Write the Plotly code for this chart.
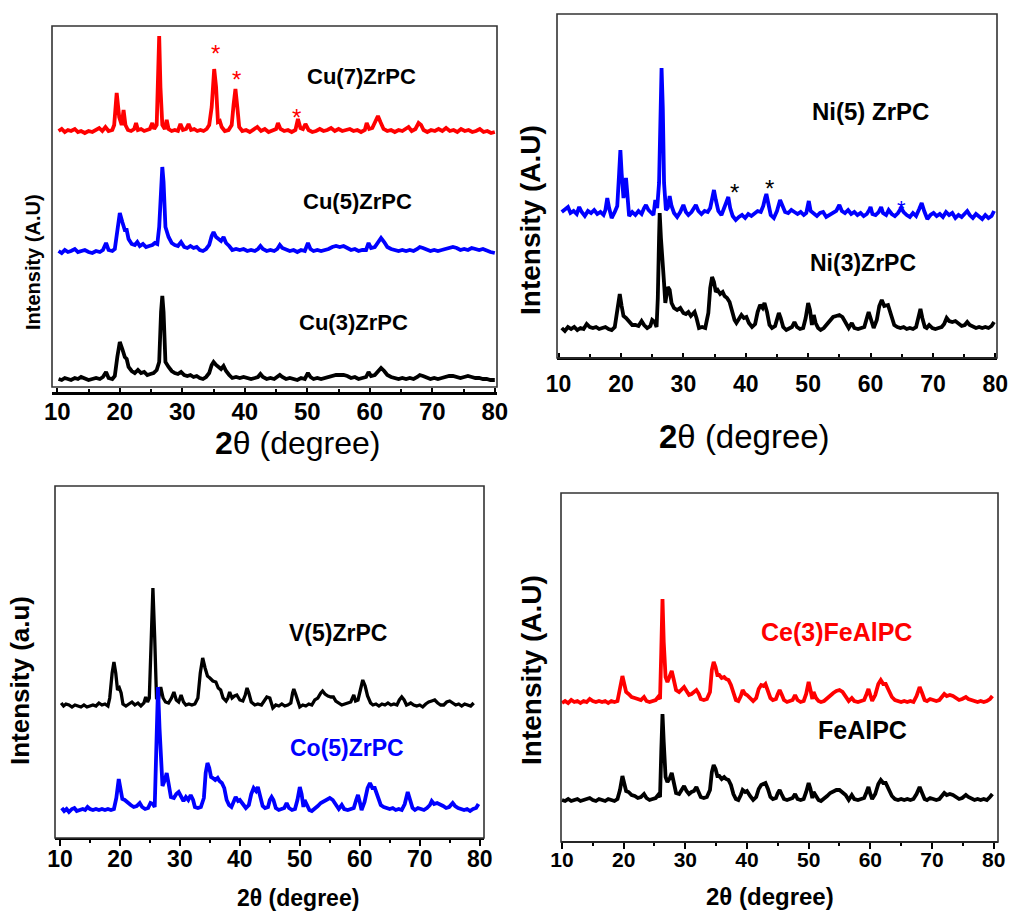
import plotly.graph_objects as go

# ---------------- DATA (2theta in degrees, intensity in arbitrary units) ----------------
cu7 = [(10.2,256),(10.7,258),(11.2,255),(11.7,257),(12.2,256),(12.8,258),(13.3,255),(13.8,256),(14.4,254),(15.0,256),(15.6,255),(16.2,257),(16.7,259),(17.2,256),(17.7,260),(18.2,256),(18.8,257),(19.1,262),(19.5,294),(19.9,270),(20.3,262),(20.6,277),(20.9,262),(21.3,257),(21.8,256),(22.3,258),(22.6,264),(22.9,257),(23.4,258),(23.9,256),(24.4,257),(24.8,258),(25.2,264),(25.5,258),(25.9,262),(26.1,300),(26.3,351),(26.5,300),(26.8,262),(27.2,258),(27.5,267),(27.8,258),(28.3,256),(28.8,257),(29.3,256),(29.7,263),(30.1,257),(30.6,258),(31.0,263),(31.4,257),(31.9,258),(32.4,256),(32.9,257),(33.4,256),(33.9,258),(34.3,262),(34.7,280),(35.1,318),(35.4,300),(35.7,265),(36.0,266),(36.3,260),(36.8,256),(37.4,257),(37.9,262),(38.2,282),(38.5,298),(38.8,280),(39.1,260),(39.6,256),(40.2,257),(40.8,255),(41.4,257),(42.0,260),(42.6,256),(43.2,258),(43.8,255),(44.4,257),(45.0,258),(45.3,264),(45.7,258),(46.3,256),(46.9,257),(47.5,255),(48.1,257),(48.5,268),(48.9,259),(49.3,258),(49.7,263),(50.2,257),(50.8,255),(51.4,256),(52.0,258),(52.6,256),(53.2,257),(53.8,259),(54.4,256),(55.0,258),(55.6,256),(56.2,257),(56.8,258),(57.4,256),(58.0,257),(58.6,255),(59.2,257),(59.5,264),(59.9,258),(60.4,259),(60.9,266),(61.3,271),(61.7,265),(62.2,258),(62.8,256),(63.4,257),(64.0,255),(64.6,257),(65.2,256),(65.8,258),(66.2,260),(66.7,256),(67.3,258),(67.8,264),(68.2,262),(68.6,257),(69.2,255),(69.8,257),(70.4,256),(71.0,258),(71.6,256),(72.2,259),(72.8,256),(73.4,257),(74.0,255),(74.6,258),(75.2,256),(75.8,257),(76.4,255),(77.0,256),(77.6,258),(78.2,255),(78.8,256),(79.4,254),(80.0,255)]

cu5 = [(10.2,136),(10.7,134),(11.2,137),(11.7,135),(12.2,136),(12.8,138),(13.3,135),(13.8,136),(14.4,137),(15.0,135),(15.6,134),(16.2,136),(16.8,135),(17.3,137),(17.8,144),(18.2,137),(18.8,136),(19.2,138),(19.6,155),(20.0,174),(20.4,165),(20.8,157),(21.1,157),(21.4,148),(21.9,143),(22.4,142),(22.8,145),(23.2,141),(23.7,143),(24.2,140),(24.7,141),(25.2,142),(25.6,144),(26.0,143),(26.3,160),(26.6,205),(26.8,220),(27.0,205),(27.3,160),(27.8,150),(28.3,144),(28.8,142),(29.3,141),(29.8,145),(30.3,140),(30.8,139),(31.3,141),(31.8,139),(32.3,140),(32.8,137),(33.3,136),(33.8,138),(34.3,142),(34.7,151),(35.0,155),(35.4,150),(35.8,148),(36.2,146),(36.6,150),(37.0,144),(37.5,141),(38.0,137),(38.6,138),(39.2,137),(39.8,138),(40.4,136),(41.0,137),(41.6,136),(42.1,138),(42.5,141),(42.9,138),(43.5,136),(44.1,137),(44.7,136),(45.2,138),(45.6,142),(46.0,139),(46.6,137),(47.2,136),(47.8,137),(48.4,135),(49.0,137),(49.6,136),(50.1,144),(50.5,138),(51.0,136),(51.6,137),(52.2,136),(52.8,137),(53.4,138),(54.0,140),(54.6,141),(55.2,140),(55.8,141),(56.4,139),(57.0,137),(57.6,138),(58.2,136),(58.8,137),(59.4,137),(59.8,144),(60.2,139),(60.8,140),(61.3,145),(61.8,149),(62.3,145),(62.8,140),(63.4,138),(64.0,137),(64.6,136),(65.2,137),(65.8,136),(66.4,137),(67.0,136),(67.6,138),(68.0,140),(68.5,139),(69.1,137),(69.7,136),(70.3,137),(70.9,136),(71.5,137),(72.1,138),(72.7,139),(73.3,140),(73.9,139),(74.5,137),(75.1,138),(75.7,137),(76.3,139),(76.9,138),(77.5,137),(78.1,138),(78.7,136),(79.3,135),(80.0,134)]

cu3 = [(10.2,8),(10.7,7),(11.2,9),(11.7,8),(12.2,7),(12.8,9),(13.3,8),(13.8,10),(14.4,8),(15.0,7),(15.6,8),(16.2,9),(16.8,8),(17.3,10),(17.8,15),(18.2,9),(18.8,8),(19.2,11),(19.6,30),(20.0,45),(20.4,38),(20.8,30),(21.1,28),(21.4,20),(21.9,16),(22.4,14),(22.9,17),(23.4,14),(23.9,15),(24.4,12),(24.9,13),(25.4,14),(25.9,17),(26.3,25),(26.6,75),(26.8,91),(27.0,75),(27.3,25),(27.8,20),(28.3,16),(28.8,14),(29.3,13),(29.8,15),(30.3,12),(30.8,11),(31.3,12),(31.8,10),(32.3,11),(32.8,9),(33.3,8),(33.8,10),(34.3,14),(34.7,22),(35.0,25),(35.4,22),(35.8,20),(36.2,18),(36.6,21),(37.0,16),(37.5,12),(38.0,9),(38.6,10),(39.2,9),(39.8,10),(40.4,9),(41.0,8),(41.6,9),(42.1,10),(42.5,13),(42.9,10),(43.5,8),(44.1,9),(44.7,8),(45.2,10),(45.6,12),(46.0,10),(46.6,8),(47.2,9),(47.8,8),(48.4,7),(49.0,9),(49.6,8),(50.1,14),(50.5,10),(51.0,8),(51.6,9),(52.2,8),(52.8,9),(53.4,10),(54.0,11),(54.6,12),(55.2,12),(55.8,12),(56.4,11),(57.0,9),(57.6,10),(58.2,8),(58.8,9),(59.4,10),(59.8,15),(60.2,11),(60.8,12),(61.3,16),(61.8,19),(62.3,16),(62.8,12),(63.4,10),(64.0,9),(64.6,8),(65.2,9),(65.8,8),(66.4,9),(67.0,8),(67.6,10),(68.0,12),(68.5,11),(69.1,9),(69.7,8),(70.3,9),(70.9,8),(71.5,9),(72.1,10),(72.7,11),(73.3,11),(73.9,10),(74.5,9),(75.1,10),(75.7,11),(76.3,10),(76.9,9),(77.5,9),(78.1,8),(78.7,8),(79.3,7),(80.0,7)]

ni5 = [(10.5,146),(11.0,149),(11.5,151),(11.9,145),(12.4,147),(12.9,144),(13.3,151),(13.7,146),(14.2,142),(14.7,147),(15.2,145),(15.7,148),(16.2,144),(16.7,146),(17.2,143),(17.5,148),(17.8,160),(18.1,150),(18.5,140),(19.0,146),(19.4,152),(19.7,185),(19.9,208),(20.1,185),(20.4,160),(20.6,170),(20.8,180),(21.0,165),(21.3,142),(21.8,146),(22.3,143),(22.8,147),(23.3,144),(23.7,150),(24.0,153),(24.4,148),(24.8,146),(25.2,143),(25.5,158),(25.8,150),(26.1,175),(26.3,250),(26.5,290),(26.7,250),(26.9,175),(27.2,148),(27.5,150),(27.8,162),(28.1,152),(28.5,145),(29.0,141),(29.5,146),(30.0,153),(30.4,146),(30.8,143),(31.3,146),(31.7,150),(32.0,153),(32.4,147),(32.9,144),(33.4,147),(33.9,146),(34.3,150),(34.6,160),(34.9,168),(35.2,158),(35.6,147),(36.1,143),(36.6,150),(36.9,156),(37.2,161),(37.5,150),(37.9,142),(38.4,138),(38.9,141),(39.4,143),(39.9,140),(40.4,144),(40.9,142),(41.4,145),(41.9,147),(42.4,146),(42.8,152),(43.1,160),(43.3,164),(43.6,155),(44.0,143),(44.5,140),(45.0,147),(45.5,158),(45.9,152),(46.3,146),(46.8,145),(47.3,148),(47.8,146),(48.3,144),(48.8,146),(49.3,143),(49.7,145),(50.1,157),(50.4,147),(50.9,144),(51.4,142),(51.9,145),(52.4,146),(52.9,141),(53.4,143),(53.9,145),(54.5,147),(55.0,153),(55.4,147),(55.9,145),(56.4,148),(56.9,144),(57.4,146),(57.9,143),(58.4,145),(58.9,142),(59.4,144),(59.8,148),(60.0,151),(60.3,144),(60.8,143),(61.3,146),(61.7,151),(62.0,145),(62.5,143),(62.9,148),(63.4,144),(63.9,142),(64.4,145),(64.9,150),(65.3,146),(65.8,143),(66.3,141),(66.8,145),(67.3,142),(67.8,149),(68.2,155),(68.6,147),(69.1,139),(69.6,143),(70.1,145),(70.6,142),(71.1,144),(71.6,141),(72.1,146),(72.6,143),(73.1,145),(73.6,140),(74.1,143),(74.6,141),(75.1,144),(75.5,147),(75.9,143),(76.4,140),(76.9,144),(77.4,141),(77.9,139),(78.4,143),(78.9,140),(79.4,142),(79.8,147)]

ni3 = [(10.5,30),(11.0,27),(11.5,31),(12.0,29),(12.5,31),(13.0,28),(13.5,30),(14.0,29),(14.5,34),(15.0,31),(15.5,30),(16.0,31),(16.5,29),(17.0,30),(17.5,31),(18.0,29),(18.5,28),(19.0,31),(19.4,45),(19.8,64),(20.1,52),(20.4,42),(20.8,40),(21.3,36),(21.8,33),(22.3,33),(22.8,32),(23.3,37),(23.7,33),(24.2,30),(24.7,32),(25.0,38),(25.4,36),(25.7,31),(25.9,60),(26.1,120),(26.2,145),(26.4,120),(26.6,95),(26.9,75),(27.1,55),(27.5,71),(27.8,68),(28.1,55),(28.5,50),(29.0,48),(29.5,50),(30.0,45),(30.4,44),(30.8,46),(31.2,42),(31.5,44),(31.8,46),(32.1,40),(32.5,30),(33.0,31),(33.5,30),(34.0,45),(34.3,70),(34.6,81),(34.9,76),(35.2,66),(35.5,68),(35.9,64),(36.3,66),(36.6,62),(37.0,60),(37.4,56),(37.8,45),(38.2,38),(38.5,35),(38.9,40),(39.3,43),(39.7,40),(40.1,41),(40.5,35),(41.0,31),(41.5,34),(41.9,46),(42.3,53),(42.7,50),(43.0,55),(43.4,46),(43.8,33),(44.2,30),(44.7,32),(45.0,40),(45.3,45),(45.6,40),(46.0,31),(46.5,28),(47.0,30),(47.4,31),(47.8,36),(48.2,31),(48.7,29),(49.2,30),(49.6,40),(50.0,55),(50.3,48),(50.6,33),(50.9,43),(51.2,35),(51.6,30),(52.0,28),(52.5,30),(53.0,34),(53.5,38),(54.0,41),(54.5,42),(55.0,43),(55.5,41),(56.0,36),(56.5,30),(57.0,35),(57.4,30),(58.0,29),(58.5,30),(59.0,31),(59.5,42),(59.7,46),(60.0,40),(60.5,30),(61.0,38),(61.4,52),(61.8,58),(62.2,52),(62.8,53),(63.3,42),(63.8,33),(64.3,31),(64.8,30),(65.3,31),(65.8,29),(66.3,30),(66.8,29),(67.3,31),(67.7,40),(68.0,49),(68.3,40),(68.7,31),(69.0,30),(69.4,33),(69.9,30),(70.4,29),(70.9,30),(71.4,31),(71.8,34),(72.2,40),(72.6,37),(73.1,36),(73.6,37),(74.1,35),(74.6,32),(75.1,33),(75.5,36),(75.9,33),(76.4,31),(76.9,30),(77.4,31),(77.9,30),(78.4,31),(78.9,30),(79.4,32),(79.8,36)]

v5 = [(10.2,135),(10.6,132),(11.0,134),(11.5,133),(12.0,131),(12.5,133),(13.0,132),(13.5,131),(14.0,133),(14.5,131),(15.0,132),(15.5,133),(16.0,132),(16.5,135),(17.0,133),(17.5,134),(18.0,132),(18.3,140),(18.7,165),(19.0,176),(19.3,165),(19.6,148),(19.9,150),(20.2,145),(20.5,134),(21.0,132),(21.5,134),(22.0,136),(22.5,133),(23.0,135),(23.5,132),(24.0,135),(24.3,141),(24.6,136),(24.9,140),(25.2,200),(25.5,250),(25.8,200),(26.1,140),(26.4,138),(26.8,151),(27.2,140),(27.6,136),(28.1,135),(28.6,140),(29.0,146),(29.4,138),(29.8,136),(30.2,143),(30.6,136),(31.0,133),(31.5,134),(32.0,133),(32.5,134),(33.0,140),(33.4,165),(33.8,180),(34.2,170),(34.6,162),(35.0,160),(35.5,157),(36.0,156),(36.4,150),(36.8,148),(37.2,140),(37.7,137),(38.0,140),(38.3,146),(38.7,140),(39.1,142),(39.5,143),(40.0,138),(40.5,137),(40.9,143),(41.2,150),(41.5,145),(41.9,136),(42.5,133),(43.0,134),(43.6,133),(44.0,137),(44.5,141),(45.0,140),(45.5,130),(46.0,133),(46.5,132),(47.0,134),(47.5,132),(48.0,133),(48.5,135),(48.8,145),(49.0,149),(49.3,144),(49.7,135),(50.0,131),(50.5,133),(51.0,132),(51.5,134),(52.0,133),(52.5,138),(53.0,140),(53.5,145),(53.8,147),(54.2,144),(54.7,142),(55.2,141),(55.6,141),(56.0,137),(56.5,135),(57.0,133),(57.5,134),(58.0,135),(58.5,136),(59.0,143),(59.3,137),(59.7,138),(60.1,150),(60.5,158),(60.9,152),(61.3,142),(61.8,135),(62.2,133),(62.7,134),(63.2,132),(63.7,134),(64.2,133),(64.7,135),(65.2,133),(65.7,134),(66.2,133),(66.6,138),(67.0,141),(67.4,138),(67.8,133),(68.2,134),(68.5,135),(69.0,133),(69.5,132),(70.0,133),(70.5,131),(71.0,134),(71.5,136),(72.0,137),(72.5,138),(73.0,135),(73.5,133),(74.0,133),(74.5,136),(75.0,137),(75.5,135),(76.0,133),(76.5,134),(77.0,132),(77.5,134),(78.0,133),(78.5,132),(79.0,135)]

co5 = [(10.3,30),(10.7,27),(11.1,29),(11.5,26),(12.0,29),(12.4,30),(12.8,27),(13.3,28),(13.8,29),(14.2,28),(14.6,31),(15.0,29),(15.5,28),(16.0,29),(16.5,28),(17.0,29),(17.5,28),(18.0,29),(18.5,28),(19.0,29),(19.4,40),(19.8,59),(20.1,50),(20.4,39),(20.8,38),(21.3,35),(21.8,33),(22.3,31),(22.8,32),(23.3,35),(23.7,31),(24.2,29),(24.7,30),(25.1,35),(25.5,34),(25.8,31),(26.0,80),(26.2,130),(26.35,151),(26.6,110),(26.9,70),(27.1,52),(27.5,58),(27.8,65),(28.1,55),(28.5,41),(29.0,40),(29.4,44),(29.8,46),(30.2,42),(30.6,37),(31.0,41),(31.4,38),(31.8,43),(32.2,38),(32.5,31),(33.0,30),(33.5,31),(34.0,40),(34.3,65),(34.6,75),(34.9,70),(35.2,61),(35.5,60),(35.9,58),(36.3,60),(36.6,57),(37.0,55),(37.4,50),(37.8,38),(38.2,33),(38.6,31),(39.0,36),(39.3,41),(39.7,37),(40.0,38),(40.5,34),(41.0,30),(41.5,33),(41.9,44),(42.3,50),(42.7,47),(43.0,51),(43.4,42),(43.8,32),(44.2,30),(44.7,31),(45.0,38),(45.3,41),(45.6,38),(46.0,30),(46.5,28),(47.0,29),(47.4,30),(47.8,35),(48.2,30),(48.7,28),(49.2,29),(49.6,38),(50.0,51),(50.3,44),(50.6,31),(50.8,38),(51.2,32),(51.6,28),(52.0,27),(52.5,29),(53.0,32),(53.5,35),(54.0,37),(54.5,38),(55.0,40),(55.5,38),(56.0,34),(56.5,29),(57.0,33),(57.4,29),(58.0,28),(58.5,29),(59.0,30),(59.4,38),(59.7,43),(60.0,36),(60.3,28),(60.8,36),(61.3,50),(61.7,55),(62.1,50),(62.5,50),(63.0,42),(63.5,33),(64.0,31),(64.5,30),(65.0,29),(65.5,30),(66.0,28),(66.5,29),(67.0,28),(67.5,34),(68.0,46),(68.4,38),(68.8,30),(69.2,28),(69.7,30),(70.2,29),(70.7,28),(71.2,30),(71.7,33),(72.0,37),(72.4,34),(72.9,35),(73.4,34),(73.9,32),(74.4,30),(74.9,31),(75.5,35),(75.9,32),(76.4,30),(76.9,29),(77.4,28),(77.9,29),(78.4,27),(78.9,29),(79.4,30),(79.8,34)]

ce3 = [(10.0,139),(10.5,141),(11.0,139),(11.5,142),(12.0,140),(12.5,141),(13.0,139),(13.5,141),(14.0,140),(14.5,143),(15.0,141),(15.5,140),(16.0,141),(16.5,140),(17.0,141),(17.5,139),(18.0,141),(18.5,140),(19.0,141),(19.4,152),(19.8,166),(20.1,158),(20.4,150),(20.8,148),(21.3,145),(21.8,144),(22.3,143),(22.8,142),(23.3,145),(23.7,141),(24.2,140),(24.7,141),(25.2,142),(25.6,145),(25.9,143),(26.1,190),(26.3,243),(26.5,200),(26.8,165),(27.1,160),(27.5,166),(27.8,171),(28.1,163),(28.5,152),(29.0,150),(29.4,153),(29.8,155),(30.2,151),(30.6,147),(31.0,148),(31.4,150),(31.8,152),(32.2,148),(32.5,143),(33.0,142),(33.5,143),(34.0,150),(34.3,172),(34.6,180),(34.9,175),(35.2,167),(35.5,167),(35.9,164),(36.3,165),(36.6,163),(37.0,162),(37.4,157),(37.8,148),(38.2,142),(38.6,141),(39.0,146),(39.3,152),(39.7,148),(40.0,147),(40.5,144),(41.0,141),(41.5,144),(41.9,153),(42.3,157),(42.7,156),(43.0,158),(43.4,152),(43.8,144),(44.2,142),(44.7,143),(45.0,148),(45.3,152),(45.6,148),(46.0,142),(46.5,140),(47.0,141),(47.4,142),(47.8,147),(48.2,142),(48.7,140),(49.2,141),(49.6,148),(50.0,160),(50.3,152),(50.6,143),(50.8,150),(51.2,144),(51.6,141),(52.0,140),(52.5,141),(53.0,144),(53.5,147),(54.0,149),(54.5,151),(55.0,152),(55.5,150),(56.0,146),(56.5,141),(57.0,144),(57.4,141),(58.0,140),(58.5,141),(59.0,142),(59.4,148),(59.7,153),(60.0,147),(60.3,141),(60.8,147),(61.3,158),(61.7,162),(62.1,158),(62.5,158),(63.0,152),(63.5,145),(64.0,142),(64.5,141),(65.0,140),(65.5,141),(66.0,140),(66.5,141),(67.0,140),(67.5,146),(68.0,155),(68.4,149),(68.8,142),(69.2,141),(69.7,143),(70.2,142),(70.7,141),(71.2,142),(71.7,145),(72.0,148),(72.4,146),(72.9,147),(73.4,146),(73.9,144),(74.4,142),(74.9,143),(75.5,145),(75.9,143),(76.4,142),(76.9,141),(77.4,140),(77.9,141),(78.4,140),(78.9,141),(79.4,143),(79.8,146)]

fealpc = [(10.0,42),(10.5,41),(11.0,43),(11.5,41),(12.0,42),(12.5,43),(13.0,41),(13.5,42),(14.0,43),(14.5,44),(15.0,42),(15.5,41),(16.0,43),(16.5,42),(17.0,41),(17.5,43),(18.0,42),(18.5,41),(19.0,43),(19.4,52),(19.8,66),(20.1,58),(20.4,51),(20.8,50),(21.3,47),(21.8,46),(22.3,44),(22.8,45),(23.3,48),(23.7,44),(24.2,42),(24.7,43),(25.2,44),(25.6,47),(25.9,45),(26.1,90),(26.3,128),(26.5,100),(26.8,65),(27.1,60),(27.5,64),(27.8,69),(28.1,60),(28.5,49),(29.0,48),(29.4,53),(29.8,56),(30.2,51),(30.6,48),(31.0,50),(31.4,51),(31.8,55),(32.2,50),(32.5,45),(33.0,44),(33.5,45),(34.0,52),(34.3,70),(34.6,77),(34.9,73),(35.2,66),(35.5,66),(35.9,63),(36.3,65),(36.6,63),(37.0,62),(37.4,57),(37.8,48),(38.2,43),(38.6,42),(39.0,47),(39.3,52),(39.7,50),(40.0,51),(40.5,46),(41.0,42),(41.5,45),(41.9,53),(42.3,57),(42.7,58),(43.0,59),(43.4,53),(43.8,45),(44.2,43),(44.7,44),(45.0,49),(45.3,52),(45.6,48),(46.0,43),(46.5,42),(47.0,43),(47.4,44),(47.8,48),(48.2,43),(48.7,42),(49.2,43),(49.6,50),(50.0,59),(50.3,53),(50.6,44),(50.8,50),(51.2,45),(51.6,42),(52.0,41),(52.5,43),(53.0,46),(53.5,49),(54.0,51),(54.5,52),(55.0,52),(55.5,50),(56.0,47),(56.5,42),(57.0,47),(57.4,43),(58.0,42),(58.5,43),(59.0,44),(59.4,50),(59.7,55),(60.0,48),(60.3,43),(60.8,48),(61.3,58),(61.7,62),(62.1,59),(62.5,59),(63.0,53),(63.5,46),(64.0,43),(64.5,42),(65.0,43),(65.5,42),(66.0,43),(66.5,42),(67.0,43),(67.5,48),(68.0,55),(68.4,50),(68.8,43),(69.2,42),(69.7,44),(70.2,43),(70.7,42),(71.2,43),(71.7,46),(72.0,49),(72.4,47),(72.9,48),(73.4,47),(73.9,45),(74.4,43),(74.9,44),(75.5,47),(75.9,45),(76.4,43),(76.9,42),(77.4,43),(77.9,42),(78.4,43),(78.9,42),(79.4,45),(79.8,48)]

tick_vals = [10, 20, 30, 40, 50, 60, 70, 80]
tick_text = ["10", "20", "30", "40", "50", "60", "70", "80"]
minor_vals = [15, 25, 35, 45, 55, 65, 75]

# star markers (2theta, intensity) on selected peaks
stars_cu7 = [(35.3, 334), (38.7, 308), (48.3, 270)]
stars_ni5_black = [(38.2, 166), (43.8, 170)]
stars_ni5_blue = [(65.0, 150)]

# ---------------- FIGURE ----------------
W, H = 1011, 912
FONT = "Arial, Liberation Sans, sans-serif"

def fx(px):
    return px / W

def fy(py):
    return 1 - py / H

fig = go.Figure()

def add(series, color, ax, width=3.8):
    fig.add_trace(go.Scatter(
        x=[p[0] for p in series], y=[p[1] for p in series],
        mode="lines", line=dict(color=color, width=width),
        xaxis="x" + ax, yaxis="y" + ax, showlegend=False, hoverinfo="skip"))

add(cu7, "#ff0000", "")
add(cu5, "#0000ff", "")
add(cu3, "#000000", "")
add(ni5, "#0000ff", "2")
add(ni3, "#000000", "2")
add(v5, "#000000", "3", 3.3)
add(co5, "#0000ff", "3")
add(ce3, "#ff0000", "4")
add(fealpc, "#000000", "4")

# panel frames in pixel coords: (left, top, right, bottom)
frames = {
    "": (52, 26, 497, 387),
    "2": (557, 14, 997, 358),
    "3": (55, 486, 484, 838),
    "4": (561, 493, 998, 842),
}
xranges = {"": [9.15, 80.35], "2": [9.74, 80.27], "3": [9.17, 80.72], "4": [9.84, 80.71]}
ytops = {"": 361, "2": 344, "3": 352, "4": 349}
tick_font = {"": 24, "2": 23, "3": 23, "4": 21}
tick_dir = {"": "inside", "2": "inside", "3": "outside", "4": "outside"}
tick_len = {"": 4, "2": 4, "3": 6, "4": 6}
axis_lw = {"": 3, "2": 3, "3": 2, "4": 2}
axis_pos = {"": 393, "2": 358, "3": 839, "4": 842}
standoff = {"": -4, "2": 4, "3": -7, "4": -7}

layout = dict(width=W, height=H, margin=dict(l=0, r=0, t=0, b=0, pad=0, autoexpand=False),
              paper_bgcolor="white", plot_bgcolor="rgba(0,0,0,0)",
              showlegend=False, font=dict(family=FONT, color="black"))
shapes = []
for k, (l, t, r, b) in frames.items():
    layout["xaxis" + k] = dict(
        domain=[fx(l), fx(r)], range=xranges[k], anchor="free", position=fy(axis_pos[k]),
        showline=True, linewidth=axis_lw[k], linecolor="black", showgrid=False, zeroline=False,
        automargin=False,
        tickmode="array", tickvals=tick_vals, ticktext=tick_text,
        ticks=tick_dir[k], ticklen=tick_len[k], tickwidth=2, tickcolor="black",
        ticklabelstandoff=standoff[k],
        minor=dict(tickmode="array", tickvals=minor_vals,
                   ticks=tick_dir[k], ticklen=3, tickwidth=2, tickcolor="black"),
        tickfont=dict(size=tick_font[k], family=FONT, color="black", weight="bold"),
        fixedrange=True)
    layout["yaxis" + k] = dict(
        domain=[fy(b), fy(t)], range=[0, ytops[k]], anchor="x" + k, automargin=False,
        showline=False, showgrid=False, zeroline=False, showticklabels=False, ticks="",
        fixedrange=True)
    shapes.append(dict(type="rect", xref="paper", yref="paper",
                       x0=fx(l), x1=fx(r), y0=fy(b), y1=fy(t),
                       line=dict(color="#333333", width=1.6), fillcolor="rgba(0,0,0,0)"))
layout["shapes"] = shapes

ann = []

def text(px, py, s, size, color="black", angle=0):
    ann.append(dict(x=fx(px), y=fy(py), xref="paper", yref="paper", text=s, showarrow=False,
                    xanchor="center", yanchor="middle", textangle=angle,
                    font=dict(size=size, color=color, family=FONT)))

# y-axis titles
text(33, 262, "<b>Intensity (A.U)</b>", 20, angle=-90)
text(531, 220, "<b>Intensity (A.U)</b>", 28, angle=-90)
text(20, 681, "<b>Intensity (a.u)</b>", 26, angle=-90)
text(531, 670, "<b>Intensity (A.U)</b>", 28, angle=-90)

# x-axis titles
text(297, 443, "<b>2</b>θ (degree)", 32)
text(744, 436, "<b>2</b>θ (degree)", 33)
text(298, 898, "<b>2θ (degree)</b>", 23)
text(770, 896, "<b>2θ (degree)</b>", 24)

# sample labels
text(361, 76, "<b>Cu(7)ZrPC</b>", 22)
text(357, 201, "<b>Cu(5)ZrPC</b>", 22)
text(353, 322, "<b>Cu(3)ZrPC</b>", 22)
text(870, 111, "<b>Ni(5) ZrPC</b>", 24)
text(863, 263, "<b>Ni(3)ZrPC</b>", 23)
text(338, 633, "<b>V(5)ZrPC</b>", 23)
text(347, 748, "<b>Co(5)ZrPC</b>", 23, color="#0000ff")
text(836, 632, "<b>Ce(3)FeAlPC</b>", 25, color="#ff0000")
text(862, 730, "<b>FeAlPC</b>", 25)

fig.update_layout(**layout)

# asterisks placed in data coordinates of their panels
def star(pts, ax, color, size):
    for (xv, yv) in pts:
        ann.append(dict(x=xv, y=yv, xref="x" + ax, yref="y" + ax, text="*", showarrow=False,
                        xanchor="center", yanchor="middle",
                        font=dict(size=size, color=color, family=FONT)))

star(stars_cu7, "", "#ff0000", 24)
star(stars_ni5_black, "2", "#000000", 24)
star(stars_ni5_blue, "2", "#0000ff", 22)

fig.update_layout(annotations=ann)
fig.write_html("out.html", config={"displayModeBar": False},
               post_script="document.body.style.margin='0px';")
